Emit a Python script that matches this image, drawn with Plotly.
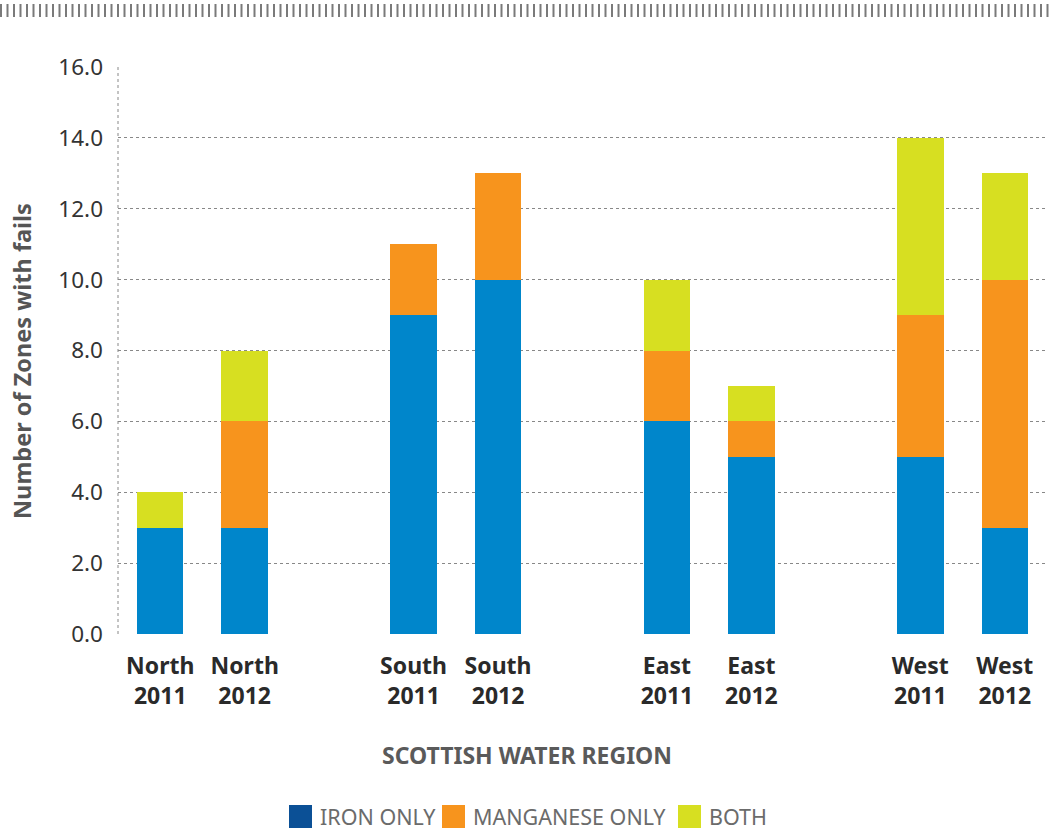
import plotly.graph_objects as go

regions = ["North", "South", "East", "West"]
years = ["2011", "2012"]
iron_only = [3, 3, 9, 10, 6, 5, 5, 3]
manganese_only = [0, 3, 2, 3, 2, 1, 4, 7]
both = [1, 2, 0, 0, 2, 1, 5, 3]

series_names = ["IRON ONLY", "MANGANESE ONLY", "BOTH"]
bar_colors = ["#0086CB", "#F7941D", "#D7DF21"]
legend_colors = ["#0B5096", "#F7941D", "#D7DF21"]

# positions: each region gets 2 slots plus one empty slot between groups
labels, xpos = [], []
for gi, r in enumerate(regions):
    for yi, y in enumerate(years):
        labels.append(f"<b>{r}<br>{y}</b>")
        xpos.append(gi * 3 + yi)

fig = go.Figure()
for name, vals, col in zip(series_names, [iron_only, manganese_only, both], bar_colors):
    fig.add_trace(go.Bar(x=xpos, y=vals, name=name, marker=dict(color=col, line=dict(width=0)),
                         showlegend=False))

W, H = 1051, 831
L, R, T, B = 118, 1047, 67, 634
ml, mr, mt, mb = L, W - R, T, H - B

def px(x):
    return (x - L) / (R - L)

def py(y):
    return (B - y) / (B - T)

shapes = []
# left dotted axis line
shapes.append(dict(type="line", xref="paper", yref="paper", x0=0, x1=0, y0=0, y1=1,
                   line=dict(color="#888888", width=1, dash="dot"), layer="below"))
# top hatched strip
shapes.append(dict(type="line", xref="paper", yref="paper", x0=px(0), x1=px(W), y0=py(10.5), y1=py(10.5),
                   line=dict(color="#7a7a7a", width=13, dash="2px,4.5px")))

annotations = []
legend_items = [(289, 318), (442, 471), (678, 707)]
for (sx, tx), name, col in zip(legend_items, series_names, legend_colors):
    shapes.append(dict(type="rect", xref="paper", yref="paper", x0=px(sx), x1=px(sx + 23),
                       y0=py(828), y1=py(805), fillcolor=col, line=dict(width=0)))
    annotations.append(dict(xref="paper", yref="paper", x=px(tx), y=py(816.5), text=name,
                            showarrow=False, xanchor="left", yanchor="middle",
                            font=dict(family="Noto Sans", size=21.5, color="#6b6b6b")))

annotations.append(dict(xref="paper", yref="paper", x=px(527), y=py(755), text="<b>SCOTTISH WATER REGION</b>",
                        showarrow=False, xanchor="center", yanchor="middle",
                        font=dict(family="Noto Sans", size=23, color="#5a5a5a")))
annotations.append(dict(xref="paper", yref="paper", x=px(22), y=py(361), text="<b>Number of Zones with fails</b>",
                        showarrow=False, xanchor="center", yanchor="middle", textangle=-90,
                        font=dict(family="Noto Sans", size=23.5, color="#555555")))

fig.update_layout(
    width=W, height=H,
    margin=dict(l=ml, r=mr, t=mt, b=mb),
    barmode="stack",
    bargap=0.45,
    plot_bgcolor="white", paper_bgcolor="white",
    font=dict(family="Noto Sans", color="#333333"),
    xaxis=dict(range=[-0.5, 10.5], tickvals=xpos, ticktext=labels, showgrid=False, zeroline=False,
               showline=False, ticks="", ticklabelstandoff=16,
               tickfont=dict(family="Noto Sans", size=23, color="#2a2a2a")),
    yaxis=dict(range=[0, 16], dtick=2, tick0=0, tickformat=".1f", showgrid=True,
               gridcolor="#888888", griddash="dot", gridwidth=1, zeroline=False, showline=False,
               ticks="", ticklabelstandoff=14,
               tickfont=dict(family="Noto Sans", size=22.5, color="#333333")),
    shapes=shapes,
    annotations=annotations,
)

fig.write_html("out.html")
